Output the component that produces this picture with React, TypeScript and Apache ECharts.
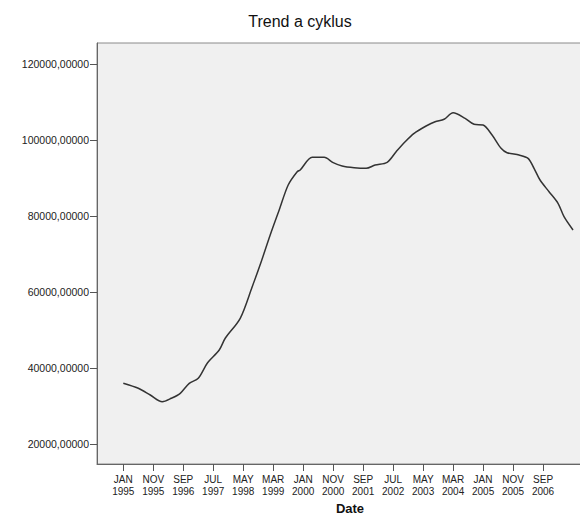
import React, { useEffect, useRef } from "react";
import * as echarts from "echarts";

// Month index (0 = JAN 1995) and series value
const months = [0, 5, 9, 13, 16, 19, 22, 25, 28, 32, 34, 39, 43, 46, 49, 52, 55, 58, 59, 63, 67, 70, 73, 77, 81, 84, 88, 91, 94, 97, 101, 104, 107, 110, 114, 117, 120, 123, 126, 128, 132, 135, 137, 139, 142, 145, 147, 150];
const values = [36000, 34660, 32900, 31130, 32030, 33340, 35970, 37290, 41240, 44740, 47820, 53080, 61400, 67970, 75000, 81580, 88160, 91660, 92100, 95450, 95450, 94030, 93160, 92710, 92550, 93420, 94130, 96920, 99550, 101760, 103690, 104820, 105450, 107190, 105710, 104130, 103950, 101320, 97820, 96660, 96050, 95180, 92550, 89470, 86400, 83340, 79820, 76320];

const xTickMonths = [0, 10, 20, 30, 40, 50, 60, 70, 80, 90, 100, 110, 120, 130, 140];
const xTickLabels = ["JAN\n1995", "NOV\n1995", "SEP\n1996", "JUL\n1997", "MAY\n1998", "MAR\n1999", "JAN\n2000", "NOV\n2000", "SEP\n2001", "JUL\n2002", "MAY\n2003", "MAR\n2004", "JAN\n2005", "NOV\n2005", "SEP\n2006"];
const yTicks = [20000, 40000, 60000, 80000, 100000, 120000];

const FONT = "'Liberation Sans', Arial, sans-serif";

export default function App() {
  const ref = useRef<HTMLDivElement>(null);
  useEffect(() => {
    if (!ref.current) return;
    const chart = echarts.init(ref.current, undefined, { renderer: "svg" });
    chart.setOption({
      animation: false,
      backgroundColor: "#ffffff",
      title: {
        text: "Trend a cyklus",
        left: 295,
        textAlign: "center",
        top: 8,
        textStyle: { fontFamily: FONT, fontSize: 16, fontWeight: "normal", color: "#111" },
      },
      grid: {
        left: 97,
        top: 43,
        width: 506,
        height: 421,
        show: true,
        outerBoundsMode: "none",
        containLabel: false,
        backgroundColor: "#f0f0f0",
        borderColor: "#8a8a8a",
        borderWidth: 1,
      },
      xAxis: {
        type: "value",
        min: -8.77,
        max: 160,
        name: "Date",
        nameLocation: "middle",
        nameGap: 36,
        nameTextStyle: { fontFamily: FONT, fontSize: 13, fontWeight: "bold", color: "#111" },
        axisLine: { show: true, onZero: false, lineStyle: { color: "#666", width: 1 } },
        axisTick: {
          show: true,
          length: 7,
          customValues: xTickMonths,
          lineStyle: { color: "#555" },
        },
        axisLabel: {
          customValues: xTickMonths,
          margin: 9,
          fontFamily: FONT,
          fontSize: 10,
          lineHeight: 12,
          color: "#222",
          formatter: (v: number) => {
            const i = xTickMonths.indexOf(Math.round(v));
            return i >= 0 ? xTickLabels[i] : "";
          },
        },
        splitLine: { show: false },
      },
      yAxis: {
        type: "value",
        min: 14737,
        max: 125526,
        axisLine: { show: true, onZero: false, lineStyle: { color: "#666", width: 1 } },
        axisTick: {
          show: true,
          length: 7,
          customValues: yTicks,
          lineStyle: { color: "#555" },
        },
        axisLabel: {
          customValues: yTicks,
          margin: 8,
          fontFamily: FONT,
          fontSize: 10.5,
          color: "#222",
          formatter: (v: number) => v.toFixed(5).replace(".", ","),
        },
        splitLine: { show: false },
      },
      series: [
        {
          type: "line",
          data: months.map((m, i) => [m, values[i]]),
          smooth: 0.3,
          showSymbol: false,
          lineStyle: { color: "#333", width: 1.5 },
        },
      ],
    });
    return () => chart.dispose();
  }, []);
  return (
    <div
      ref={ref}
      style={{ position: "absolute", left: 0, top: 0, width: 580, height: 516 }}
    />
  );
}
